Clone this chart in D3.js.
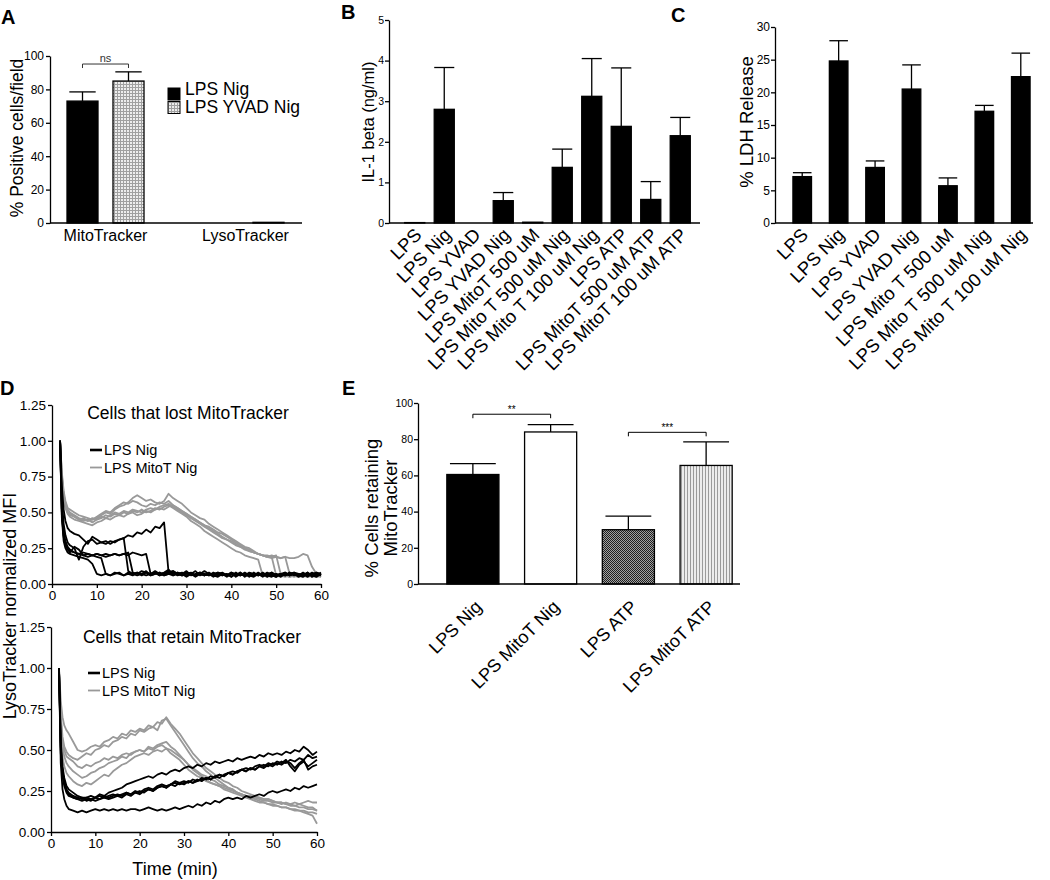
<!DOCTYPE html>
<html>
<head>
<meta charset="utf-8">
<script src="https://cdn.jsdelivr.net/npm/d3@7"></script>
<style>
  body { margin: 0; background: #fff; }
  svg { font-family: Arial, "Liberation Sans", sans-serif; }
  .axis path, .axis line { stroke: #000; stroke-width: 1.3; }
  .axis text { fill: #000; }
</style>
</head>
<body>
<script>

// ---------- Panel A data ----------
const aGroups = ["MitoTracker", "LysoTracker"]
const aSeries = ["LPS Nig", "LPS YVAD Nig"]
const aNig = [73, 0]
const aNigErr = [5.5, 0]
const aYvad = [85, 0.4]
const aYvadErr = [5.5, 0]
const aTicks = [0, 20, 40, 60, 80, 100]

// ---------- Panel B data ----------
const bCategories = ["LPS", "LPS Nig", "LPS YVAD", "LPS YVAD Nig", "LPS MitoT 500 uM",
  "LPS Mito T 500 uM Nig", "LPS Mito T 100 uM Nig", "LPS ATP", "LPS MitoT 500 uM ATP", "LPS MitoT 100 uM ATP"]
const bValues = [0.01, 2.8, 0, 0.55, 0.02, 1.37, 3.12, 2.38, 0.58, 2.15]
const bErrors = [0, 1.03, 0, 0.2, 0, 0.45, 0.93, 1.44, 0.44, 0.45]
const bTicks = [0, 1, 2, 3, 4, 5]

// ---------- Panel C data ----------
const cCategories = ["LPS", "LPS Nig", "LPS YVAD", "LPS YVAD Nig", "LPS Mito T 500 uM",
  "LPS Mito T 500 uM Nig", "LPS Mito T 100 uM Nig"]
const cValues = [7.1, 24.8, 8.5, 20.5, 5.7, 17.1, 22.4]
const cErrors = [0.6, 3.1, 1.0, 3.7, 1.2, 0.9, 3.6]
const cTicks = [0, 5, 10, 15, 20, 25, 30]

// ---------- Panel E data ----------
const eCategories = ["LPS Nig", "LPS MitoT Nig", "LPS ATP", "LPS MitoT ATP"]
const eValues = [60.5, 84, 30, 65.5]
const eErrors = [6, 4, 7.5, 13]
const eTicks = [0, 20, 40, 60, 80, 100]
const eSignif = [{from: 0, to: 1, level: 93.8, label: "**"}, {from: 2, to: 3, level: 83.8, label: "***"}]

// ---------- Panel D data (time in min, LysoTracker normalized MFI) ----------
const dTimes = [1.8, 2.2, 2.6, 3, 3.5, 4,
  5, 6, 7, 8, 9, 10, 11, 12, 13, 14,
  15, 16, 17, 18, 19, 20, 21, 22, 23, 24,
  25, 26, 27, 28, 29, 30, 31, 32, 33, 34,
  35, 36, 37, 38, 39, 40, 41, 42, 43, 44,
  45, 46, 47, 48, 49, 50, 51, 52, 53, 54,
  55, 56, 57, 58, 59, 60]
const dTicksY = [0, 0.25, 0.5, 0.75, 1, 1.25]
const dTicksX = [0, 10, 20, 30, 40, 50, 60]

// cells that lost MitoTracker
const lostNig = [
  [1.00,0.68,0.52,0.44,0.39,0.37,
   0.35,0.34,0.31,0.28,0.33,0.31,0.29,0.30,0.28,0.30,
   0.31,0.32,0.34,0.33,0.36,0.35,0.38,0.36,0.40,0.39,
   0.43,0.08,0.09,0.07,0.08,0.06,0.07,0.09,0.06,0.07,
   0.06,0.08,0.06,0.07,0.05,0.07,0.06,0.08,0.06,0.07,
   0.06,0.07,0.05,0.07,0.08,0.06,0.07,0.06,0.08,0.06,
   0.07,0.06,0.08,0.05,0.07,0.06],
  [1.00,0.58,0.42,0.34,0.29,0.27,
   0.25,0.17,0.26,0.30,0.31,0.28,0.29,0.28,0.30,0.29,
   0.31,0.32,0.09,0.07,0.08,0.06,0.08,0.07,0.09,0.07,
   0.08,0.10,0.07,0.08,0.06,0.07,0.08,0.06,0.07,0.09,
   0.07,0.06,0.08,0.07,0.06,0.08,0.05,0.07,0.06,0.08,
   0.07,0.06,0.08,0.06,0.07,0.05,0.07,0.08,0.06,0.07,
   0.06,0.08,0.06,0.07,0.08,0.07],
  [1.00,0.52,0.36,0.30,0.26,0.24,
   0.22,0.21,0.20,0.21,0.20,0.21,0.20,0.21,0.20,0.21,
   0.20,0.21,0.20,0.22,0.21,0.20,0.21,0.07,0.08,0.06,
   0.07,0.08,0.09,0.07,0.06,0.08,0.07,0.06,0.08,0.07,
   0.06,0.07,0.08,0.06,0.07,0.05,0.07,0.06,0.08,0.06,
   0.07,0.06,0.07,0.05,0.08,0.06,0.07,0.06,0.07,0.08,
   0.06,0.07,0.05,0.07,0.06,0.08],
  [1.00,0.48,0.33,0.27,0.24,0.22,
   0.26,0.24,0.20,0.19,0.20,0.21,0.20,0.19,0.20,0.21,
   0.20,0.21,0.22,0.08,0.07,0.09,0.08,0.06,0.07,0.08,
   0.06,0.07,0.08,0.06,0.07,0.09,0.06,0.07,0.08,0.06,
   0.07,0.05,0.07,0.08,0.06,0.07,0.06,0.08,0.05,0.07,
   0.06,0.08,0.06,0.07,0.06,0.05,0.07,0.06,0.08,0.07,
   0.05,0.07,0.06,0.08,0.06,0.07],
  [1.00,0.46,0.30,0.25,0.22,0.21,
   0.20,0.19,0.18,0.17,0.14,0.07,0.06,0.07,0.06,0.08,
   0.07,0.06,0.08,0.07,0.06,0.07,0.09,0.06,0.07,0.08,
   0.06,0.07,0.06,0.08,0.07,0.05,0.07,0.06,0.08,0.06,
   0.07,0.06,0.05,0.07,0.06,0.08,0.07,0.06,0.07,0.05,
   0.08,0.06,0.07,0.06,0.05,0.07,0.06,0.08,0.06,0.07,
   0.06,0.05,0.07,0.06,0.08,0.06],
  [1.00,0.50,0.34,0.28,0.25,0.23,
   0.22,0.21,0.22,0.21,0.20,0.19,0.18,0.07,0.06,0.07,
   0.08,0.06,0.07,0.06,0.08,0.07,0.06,0.07,0.08,0.06,
   0.07,0.09,0.06,0.07,0.06,0.08,0.07,0.05,0.07,0.06,
   0.08,0.06,0.07,0.06,0.07,0.05,0.08,0.06,0.07,0.06,
   0.05,0.07,0.06,0.08,0.06,0.07,0.05,0.07,0.06,0.08,
   0.07,0.06,0.08,0.06,0.05,0.07]
]
const lostMitoT = [
  [1.00,0.78,0.65,0.58,0.53,0.52,
   0.50,0.48,0.47,0.46,0.45,0.46,0.48,0.50,0.49,0.52,
   0.54,0.55,0.57,0.60,0.62,0.60,0.58,0.59,0.57,0.56,
   0.58,0.63,0.60,0.58,0.56,0.53,0.50,0.48,0.46,0.45,
   0.42,0.40,0.38,0.36,0.34,0.32,0.30,0.28,0.26,0.25,
   0.23,0.21,0.20,0.19,0.20,0.19,0.18,0.19,0.18,0.18,
   0.19,0.21,0.20,0.12,0.07,0.06],
  [1.00,0.74,0.62,0.55,0.50,0.48,
   0.47,0.45,0.44,0.45,0.43,0.45,0.46,0.48,0.47,0.49,
   0.48,0.50,0.49,0.51,0.50,0.52,0.50,0.51,0.53,0.52,
   0.54,0.55,0.53,0.51,0.49,0.47,0.44,0.42,0.40,0.37,
   0.35,0.33,0.31,0.29,0.27,0.25,0.23,0.22,0.20,0.19,
   0.18,0.17,0.06,0.05,0.06,0.05,0.06,0.05,0.06,0.05,
   0.06,0.05,0.06,0.05,0.06,0.05],
  [1.00,0.76,0.63,0.56,0.52,0.50,
   0.48,0.46,0.45,0.44,0.46,0.45,0.47,0.46,0.48,0.50,
   0.49,0.51,0.50,0.52,0.51,0.50,0.52,0.53,0.52,0.54,
   0.55,0.56,0.54,0.52,0.50,0.48,0.46,0.44,0.42,0.40,
   0.38,0.36,0.34,0.32,0.31,0.29,0.27,0.26,0.24,0.23,
   0.22,0.21,0.20,0.19,0.19,0.06,0.05,0.06,0.05,0.06,
   0.05,0.06,0.05,0.06,0.05,0.06],
  [1.00,0.72,0.60,0.53,0.49,0.47,
   0.45,0.44,0.43,0.42,0.41,0.43,0.44,0.46,0.45,0.47,
   0.48,0.47,0.49,0.50,0.48,0.49,0.51,0.50,0.52,0.53,
   0.52,0.54,0.55,0.53,0.51,0.49,0.47,0.45,0.43,0.41,
   0.39,0.37,0.35,0.33,0.31,0.30,0.28,0.26,0.25,0.23,
   0.22,0.21,0.20,0.20,0.19,0.20,0.07,0.06,0.05,0.06,
   0.05,0.06,0.07,0.05,0.06,0.05],
  [1.00,0.75,0.61,0.54,0.50,0.49,
   0.47,0.45,0.46,0.44,0.45,0.47,0.49,0.51,0.50,0.53,
   0.55,0.57,0.56,0.58,0.57,0.55,0.54,0.56,0.55,0.57,
   0.56,0.58,0.55,0.53,0.51,0.49,0.47,0.45,0.43,0.41,
   0.40,0.38,0.36,0.35,0.33,0.31,0.29,0.27,0.25,0.24,
   0.22,0.21,0.20,0.19,0.18,0.19,0.18,0.19,0.07,0.06,
   0.05,0.06,0.05,0.06,0.05,0.06]
]

// cells that retain MitoTracker
const retainNig = [
  [1.00,0.55,0.40,0.33,0.28,0.26,
   0.24,0.22,0.21,0.21,0.22,0.21,0.23,0.22,0.24,0.25,
   0.26,0.27,0.29,0.30,0.31,0.32,0.33,0.34,0.33,0.35,
   0.36,0.35,0.37,0.38,0.37,0.39,0.40,0.39,0.41,0.40,
   0.42,0.41,0.43,0.42,0.43,0.44,0.43,0.45,0.44,0.45,
   0.46,0.45,0.47,0.46,0.48,0.47,0.48,0.47,0.49,0.48,
   0.50,0.49,0.52,0.50,0.47,0.49],
  [1.00,0.50,0.36,0.30,0.25,0.23,
   0.21,0.20,0.19,0.20,0.19,0.21,0.20,0.22,0.21,0.22,
   0.23,0.22,0.24,0.23,0.24,0.25,0.24,0.26,0.25,0.27,
   0.28,0.27,0.29,0.28,0.30,0.29,0.31,0.30,0.31,0.32,
   0.33,0.32,0.34,0.35,0.34,0.36,0.35,0.37,0.38,0.37,
   0.39,0.38,0.40,0.41,0.40,0.42,0.41,0.43,0.42,0.44,
   0.43,0.45,0.44,0.47,0.45,0.46],
  [1.00,0.48,0.34,0.28,0.24,0.22,
   0.21,0.20,0.21,0.19,0.20,0.19,0.20,0.21,0.20,0.21,
   0.22,0.21,0.23,0.22,0.24,0.23,0.25,0.26,0.25,0.27,
   0.28,0.27,0.29,0.30,0.29,0.30,0.31,0.30,0.32,0.31,
   0.33,0.32,0.34,0.33,0.35,0.36,0.35,0.37,0.38,0.39,
   0.38,0.40,0.41,0.40,0.42,0.41,0.43,0.42,0.44,0.40,
   0.37,0.41,0.43,0.40,0.42,0.44],
  [1.00,0.52,0.37,0.31,0.26,0.24,
   0.22,0.21,0.20,0.21,0.20,0.21,0.22,0.21,0.22,0.23,
   0.22,0.23,0.24,0.23,0.25,0.24,0.26,0.27,0.26,0.28,
   0.29,0.28,0.29,0.31,0.30,0.31,0.30,0.32,0.31,0.33,
   0.32,0.34,0.33,0.35,0.34,0.36,0.37,0.36,0.38,0.37,
   0.39,0.38,0.40,0.39,0.41,0.40,0.42,0.41,0.43,0.42,
   0.39,0.42,0.44,0.38,0.40,0.41],
  [1.00,0.42,0.26,0.20,0.16,0.14,
   0.13,0.12,0.13,0.12,0.13,0.14,0.13,0.14,0.13,0.14,
   0.13,0.14,0.13,0.14,0.14,0.13,0.14,0.15,0.14,0.13,
   0.14,0.13,0.14,0.15,0.14,0.15,0.16,0.15,0.17,0.16,
   0.18,0.17,0.19,0.18,0.20,0.21,0.20,0.21,0.20,0.22,
   0.21,0.22,0.23,0.22,0.24,0.25,0.24,0.25,0.26,0.25,
   0.27,0.26,0.28,0.27,0.28,0.29]
]
const retainMitoT = [
  [1.00,0.80,0.70,0.65,0.62,0.60,
   0.55,0.50,0.49,0.50,0.52,0.53,0.52,0.55,0.56,0.58,
   0.57,0.60,0.59,0.62,0.61,0.63,0.62,0.65,0.64,0.67,
   0.66,0.70,0.66,0.63,0.60,0.56,0.52,0.48,0.45,0.42,
   0.39,0.37,0.35,0.33,0.31,0.30,0.28,0.27,0.25,0.24,
   0.23,0.22,0.21,0.20,0.20,0.19,0.18,0.18,0.17,0.17,
   0.16,0.17,0.16,0.15,0.15,0.13],
  [1.00,0.72,0.58,0.52,0.49,0.47,
   0.45,0.44,0.46,0.48,0.47,0.50,0.51,0.53,0.52,0.55,
   0.56,0.58,0.57,0.60,0.59,0.62,0.61,0.63,0.64,0.62,
   0.68,0.69,0.65,0.61,0.57,0.53,0.49,0.45,0.42,0.40,
   0.37,0.35,0.33,0.31,0.29,0.27,0.26,0.24,0.23,0.22,
   0.21,0.20,0.19,0.18,0.17,0.17,0.16,0.15,0.15,0.14,
   0.13,0.13,0.12,0.11,0.10,0.05],
  [1.00,0.68,0.55,0.50,0.46,0.45,
   0.43,0.40,0.39,0.41,0.40,0.42,0.43,0.45,0.44,0.46,
   0.45,0.47,0.48,0.47,0.49,0.50,0.49,0.51,0.50,0.52,
   0.53,0.51,0.50,0.48,0.46,0.44,0.41,0.39,0.37,0.35,
   0.34,0.32,0.31,0.29,0.28,0.27,0.26,0.24,0.23,0.22,
   0.21,0.21,0.20,0.19,0.19,0.18,0.18,0.17,0.18,0.17,
   0.18,0.17,0.18,0.19,0.18,0.18],
  [1.00,0.66,0.52,0.46,0.42,0.40,
   0.37,0.35,0.33,0.34,0.36,0.37,0.39,0.40,0.42,0.43,
   0.44,0.46,0.45,0.48,0.49,0.50,0.49,0.52,0.51,0.53,
   0.54,0.55,0.52,0.50,0.47,0.44,0.41,0.38,0.36,0.34,
   0.32,0.30,0.29,0.28,0.26,0.25,0.24,0.23,0.22,0.21,
   0.20,0.19,0.18,0.18,0.17,0.16,0.16,0.15,0.15,0.14,
   0.14,0.13,0.13,0.12,0.12,0.11],
  [1.00,0.62,0.46,0.40,0.36,0.34,
   0.31,0.29,0.28,0.30,0.29,0.31,0.33,0.35,0.34,0.37,
   0.39,0.41,0.42,0.44,0.46,0.47,0.48,0.47,0.49,0.50,
   0.49,0.51,0.48,0.46,0.44,0.41,0.38,0.36,0.34,0.33,
   0.31,0.30,0.29,0.28,0.27,0.26,0.25,0.24,0.23,0.22,
   0.22,0.21,0.21,0.20,0.20,0.19,0.18,0.18,0.17,0.16,
   0.16,0.15,0.15,0.14,0.14,0.13]
]

//Draw canvas
const svg = d3.select("body")
  .append("svg")
  .attr("width", 1050)
  .attr("height", 880)

// fill patterns
const defs = svg.append("defs")
const grid = defs.append("pattern").attr("id", "grid")
  .attr("patternUnits", "userSpaceOnUse").attr("width", 3).attr("height", 3)
grid.append("rect").attr("width", 3).attr("height", 3).attr("fill", "#ededed")
grid.append("path").attr("d", "M0,0.5H3M0.5,0V3").attr("stroke", "#a0a0a0").attr("stroke-width", 1)

const checker = defs.append("pattern").attr("id", "checker")
  .attr("patternUnits", "userSpaceOnUse").attr("width", 2).attr("height", 2)
checker.append("rect").attr("width", 2).attr("height", 2).attr("fill", "#a0a0a0")
checker.append("rect").attr("width", 1).attr("height", 1).attr("fill", "#1e1e1e")
checker.append("rect").attr("x", 1).attr("y", 1).attr("width", 1).attr("height", 1).attr("fill", "#1e1e1e")

const vlines = defs.append("pattern").attr("id", "vlines")
  .attr("patternUnits", "userSpaceOnUse").attr("width", 3).attr("height", 4)
vlines.append("rect").attr("width", 3).attr("height", 4).attr("fill", "#ececec")
vlines.append("rect").attr("width", 1).attr("height", 4).attr("fill", "#9a9a9a")

// helpers
function drawYAxis(x, scale, ticks, fmt, fs, pad = 2) {
  const g = svg.append("g")
    .attr("class", "axis")
    .attr("transform", `translate(${x},0)`)
    .call(d3.axisLeft(scale).tickValues(ticks).tickFormat(fmt)
      .tickSize(4).tickSizeOuter(0).tickPadding(pad))
  g.attr("font-family", null).attr("font-size", fs)
  return g
}

function yLabel(text, x, y, fs) {
  svg.append("text")
    .attr("transform", `translate(${x},${y}) rotate(-90)`)
    .attr("text-anchor", "middle")
    .style("font-size", fs + "px")
    .text(text)
}

function panelLetter(letter, x, y) {
  svg.append("text").attr("x", x).attr("y", y)
    .style("font-size", "20px").style("font-weight", "bold")
    .text(letter)
}

function errorBar(cx, yTop, yBase, capW) {
  svg.append("line").attr("x1", cx).attr("x2", cx).attr("y1", yBase).attr("y2", yTop)
    .attr("stroke", "#000").attr("stroke-width", 1.3)
  svg.append("line").attr("x1", cx - capW / 2).attr("x2", cx + capW / 2).attr("y1", yTop).attr("y2", yTop)
    .attr("stroke", "#000").attr("stroke-width", 1.3)
}

// simple bar panel (B, C, E)
function drawBarPanel(p) {
  const xScale = d3.scaleBand()
    .domain(p.cats)
    .range(p.xRange)
    .paddingInner(p.pad)
    .paddingOuter(p.pad / 2)
  const yScale = d3.scaleLinear()
    .domain([0, d3.max(p.ticks)])
    .range([p.yBottom, p.yTop])

  // error bars first, bars drawn over the stems
  p.cats.forEach((c, i) => {
    if (p.errors[i] > 0) {
      const cx = xScale(c) + xScale.bandwidth() / 2
      errorBar(cx, yScale(p.values[i] + p.errors[i]), yScale(p.values[i]), xScale.bandwidth() * p.cap)
    }
  })

  svg.append("g").selectAll("rect")
    .data(p.values)
    .join("rect")
      .attr("x", (d, i) => xScale(p.cats[i]))
      .attr("y", d => yScale(d))
      .attr("width", xScale.bandwidth())
      .attr("height", d => p.yBottom - yScale(d))
      .attr("fill", (d, i) => p.fills[i])
      .attr("stroke", "#000")
      .attr("stroke-width", 1.3)

  // x axis line
  svg.append("line").attr("x1", p.axisX).attr("x2", p.axisEnd)
    .attr("y1", p.yBottom).attr("y2", p.yBottom)
    .attr("stroke", "#000").attr("stroke-width", 1.3)
  drawYAxis(p.axisX, yScale, p.ticks, d3.format("d"), p.tickFs, p.tickPad)

  // rotated category labels
  svg.append("g").selectAll("text")
    .data(p.cats)
    .join("text")
      .attr("transform", d => `translate(${xScale(d) + xScale.bandwidth() / 2 + p.labelDx},${p.labelY}) rotate(-45)`)
      .attr("text-anchor", "end")
      .style("font-size", p.labelFs + "px")
      .text(d => d)

  return {xScale, yScale}
}

// ---------- Panel A ----------
panelLetter("A", 1, 24)
{
  const yScale = d3.scaleLinear().domain([0, 100]).range([223, 56])
  const x0 = d3.scaleBand().domain(aGroups).range([35.5, 315.5])
  const x1 = d3.scaleBand().domain(aSeries).range([31.5, 108.5]).paddingInner(0.326)
  const seriesVals = [aNig, aYvad]
  const seriesErr = [aNigErr, aYvadErr]
  const fills = ["#000", "url(#grid)"]

  aSeries.forEach((s, si) => {
    aGroups.forEach((g, gi) => {
      const bx = x0(g) + x1(s)
      const v = seriesVals[si][gi]
      if (seriesErr[si][gi] > 0)
        errorBar(bx + x1.bandwidth() / 2, yScale(v + seriesErr[si][gi]), yScale(v), x1.bandwidth() * 0.85)
      svg.append("rect")
        .attr("x", bx).attr("y", yScale(v))
        .attr("width", x1.bandwidth()).attr("height", 223 - yScale(v))
        .attr("fill", fills[si]).attr("stroke", "#000").attr("stroke-width", 1.3)
    })
  })

  svg.append("line").attr("x1", 50).attr("x2", 302).attr("y1", 223).attr("y2", 223)
    .attr("stroke", "#000").attr("stroke-width", 1.3)
  drawYAxis(50, yScale, aTicks, d3.format("d"), 12)
  yLabel("% Positive cells/field", 23, 138, 17.5)

  svg.append("g").selectAll("text")
    .data(aGroups)
    .join("text")
      .attr("x", d => x0(d) + 70)
      .attr("y", 241)
      .attr("text-anchor", "middle")
      .style("font-size", "16px")
      .text(d => d)

  // ns bracket
  const c0 = x0(aGroups[0]) + x1(aSeries[0]) + x1.bandwidth() / 2
  const c1 = x0(aGroups[0]) + x1(aSeries[1]) + x1.bandwidth() / 2
  svg.append("path")
    .attr("d", `M${c0},${yScale(92.8)}V${yScale(95.2)}H${c1}V${yScale(92.8)}`)
    .attr("fill", "none").attr("stroke", "#333").attr("stroke-width", 1)
  svg.append("text").attr("x", (c0 + c1) / 2).attr("y", 62).attr("text-anchor", "middle")
    .style("font-size", "11px").attr("fill", "#333").text("ns")

  // legend
  const legend = svg.append("g").selectAll("g")
    .data(aSeries)
    .join("g")
  legend.append("rect").attr("x", 168).attr("y", (d, i) => 88 + i * 13.5)
    .attr("width", 12).attr("height", 12)
    .attr("fill", (d, i) => fills[i]).attr("stroke", "#000").attr("stroke-width", 1)
  legend.append("text").attr("x", 185).attr("y", (d, i) => 94.5 + i * 18.5)
    .style("font-size", "17.5px").text(d => d)
}

// ---------- Panel B ----------
panelLetter("B", 341, 19)
drawBarPanel({
  cats: bCategories, values: bValues, errors: bErrors, ticks: bTicks,
  xRange: [400, 695], pad: 0.32, yBottom: 223, yTop: 20, axisX: 389, axisEnd: 700,
  fills: bCategories.map(() => "#000"), cap: 1, tickFs: 10.5, tickPad: 1,
  labelDx: 8, labelY: 236, labelFs: 18.5
})
yLabel("IL-1 beta (ng/ml)", 374, 122, 16.5)

// ---------- Panel C ----------
panelLetter("C", 671, 22)
drawBarPanel({
  cats: cCategories, values: cValues, errors: cErrors, ticks: cTicks,
  xRange: [784, 1039], pad: 0.49, yBottom: 223, yTop: 27, axisX: 775, axisEnd: 1033,
  fills: cCategories.map(() => "#000"), cap: 1, tickFs: 12, tickPad: 1,
  labelDx: 7, labelY: 236, labelFs: 18.5
})
yLabel("% LDH Release", 753, 122, 18.5)

// ---------- Panel E ----------
panelLetter("E", 342, 395)
{
  const {xScale, yScale} = drawBarPanel({
    cats: eCategories, values: eValues, errors: eErrors, ticks: eTicks,
    xRange: [434, 745], pad: 0.33, yBottom: 584, yTop: 403, axisX: 418, axisEnd: 740,
    fills: ["#000", "#fff", "url(#checker)", "url(#vlines)"], cap: 0.88, tickFs: 10.5, tickPad: 1,
    labelDx: 10, labelY: 608, labelFs: 18
  })
  svg.append("text")
    .attr("transform", "translate(378,508) rotate(-90)")
    .attr("text-anchor", "middle").style("font-size", "18.5px")
    .text("% Cells retaining")
  svg.append("text")
    .attr("transform", "translate(397,508) rotate(-90)")
    .attr("text-anchor", "middle").style("font-size", "18.5px")
    .text("MitoTracker")

  eSignif.forEach(s => {
    const c0 = xScale(eCategories[s.from]) + xScale.bandwidth() / 2
    const c1 = xScale(eCategories[s.to]) + xScale.bandwidth() / 2
    const yl = yScale(s.level)
    svg.append("path").attr("d", `M${c0},${yl + 4}V${yl}H${c1}V${yl + 4}`)
      .attr("fill", "none").attr("stroke", "#000").attr("stroke-width", 1)
    svg.append("text").attr("x", (c0 + c1) / 2).attr("y", yl - 1)
      .attr("text-anchor", "middle").style("font-size", "10px").text(s.label)
  })
}

// ---------- Panel D ----------
panelLetter("D", 0, 395)

function drawTraces(p) {
  const xScale = d3.scaleLinear().domain([0, 60]).range([p.x0, p.x1])
  const yScale = d3.scaleLinear().domain([0, 1.25]).range([p.yBottom, p.yTop])
  const lineGen = d3.line()
    .x((d, i) => xScale(dTimes[i]))
    .y(d => yScale(d))

  svg.append("g").selectAll("path")
    .data(p.gray)
    .join("path")
      .attr("d", lineGen)
      .attr("fill", "none")
      .attr("stroke", "#999")
      .attr("stroke-width", 1.8)
      .attr("stroke-linejoin", "round")
  svg.append("g").selectAll("path")
    .data(p.black)
    .join("path")
      .attr("d", lineGen)
      .attr("fill", "none")
      .attr("stroke", "#000")
      .attr("stroke-width", 1.8)
      .attr("stroke-linejoin", "round")

  drawYAxis(p.x0, yScale, dTicksY, d3.format(".2f"), 13.5)
  const xa = svg.append("g")
    .attr("class", "axis")
    .attr("transform", `translate(0,${p.yBottom})`)
    .call(d3.axisBottom(xScale).tickValues(dTicksX).tickSize(4).tickSizeOuter(0).tickPadding(2))
  xa.attr("font-family", null).attr("font-size", 13.5)

  svg.append("text").attr("x", p.titleX).attr("y", p.titleY).attr("text-anchor", "middle")
    .style("font-size", "17.5px").text(p.title)

  // legend
  const items = [{name: "LPS Nig", color: "#000", w: 2.6}, {name: "LPS MitoT Nig", color: "#999", w: 1.8}]
  items.forEach((it, i) => {
    const ly = p.legendY + i * 17.5
    svg.append("line").attr("x1", p.legendX).attr("x2", p.legendX + 12).attr("y1", ly).attr("y2", ly)
      .attr("stroke", it.color).attr("stroke-width", it.w)
    svg.append("text").attr("x", p.legendX + 14).attr("y", ly + 5)
      .style("font-size", "14.5px").text(it.name)
  })
}

drawTraces({
  gray: lostMitoT, black: lostNig, x0: 52, x1: 321, yBottom: 584, yTop: 405,
  title: "Cells that lost MitoTracker", titleX: 188, titleY: 419, legendX: 90, legendY: 450
})
drawTraces({
  gray: retainMitoT, black: retainNig, x0: 51, x1: 317, yBottom: 832, yTop: 627,
  title: "Cells that retain MitoTracker", titleX: 192, titleY: 643, legendX: 88, legendY: 673
})
yLabel("LysoTracker normalized MFI", 15.5, 606, 18)
svg.append("text").attr("x", 175).attr("y", 875).attr("text-anchor", "middle")
  .style("font-size", "18px").text("Time (min)")

</script>
</body>
</html>
